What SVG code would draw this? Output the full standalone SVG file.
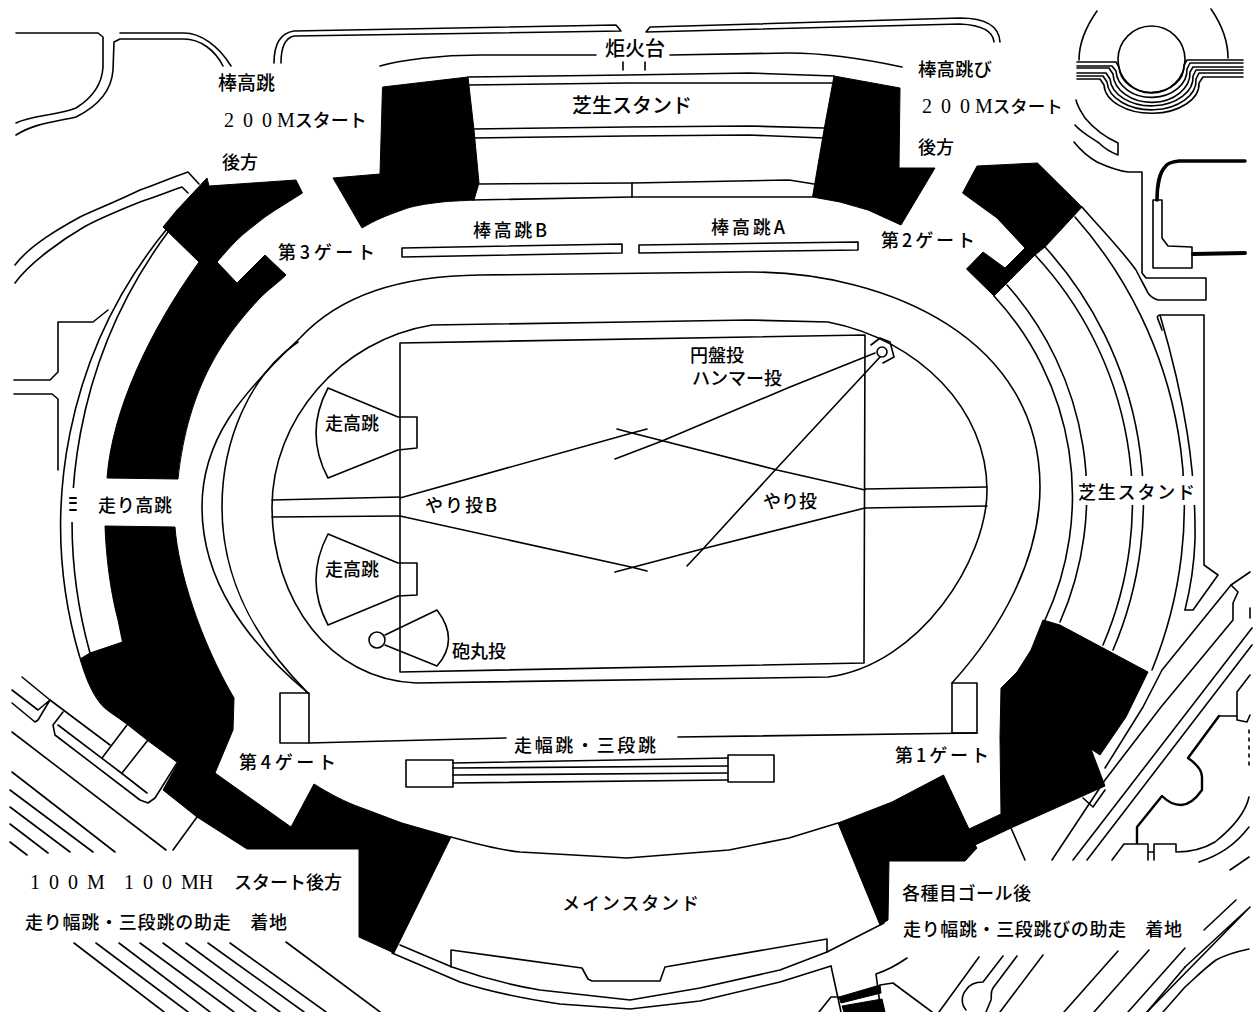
<svg xmlns="http://www.w3.org/2000/svg" width="1253" height="1012" viewBox="0 0 1253 1012">
<style>
.l{fill:none;stroke:#000;stroke-width:1.6;stroke-linejoin:round;stroke-linecap:round}
.t{stroke-width:3.5}
.m{stroke-width:2.4}
.b{fill:#000;stroke:#000;stroke-width:1;stroke-linejoin:round}
.w{fill:#fff;stroke:none}
text{font-family:"Noto Sans CJK JP","Noto Sans",sans-serif;font-size:18px;font-weight:500;fill:#000}
.s{font-family:"Liberation Serif",serif;font-size:20px}
</style>
<rect width="1253" height="1012" fill="#fff"/>
<g id="site-lines" class="l">
<path d="M16,33H98L103,37V67C102,85 92,98 76,108C55,116 33,115 16,123"/>
<path d="M120,33H184C200,33 218,45 231,66"/>
<path d="M223,66C215,50 200,39 184,39H120L114,42L113,70C112,85 104,103 76,117C55,122 35,123 16,135"/>
<path d="M274,63C274,45 280,33 294,31L616,25L621,31L294,36C285,38 281,48 281,63"/>
<path d="M646,32L650,27L960,18C985,18 999,25 1000,42M646,32L960,24C980,25 993,30 994,42"/>
<path d="M380,66C400,60 440,55 480,55H596M670,55L789,53C820,53 860,58 902,67"/>
<path d="M623,62V70M645,62V70"/>
<path d="M188,172L199,184M188,172C165,180 160,183 140,190C115,202 95,210 80,217C60,228 30,245 15,265"/>
<path d="M182,187L188,193M182,187C165,193 155,197 140,202C115,212 100,218 84,227C65,238 30,262 15,283"/>
<path d="M14,380H50L58,372V322H93L108,310"/>
<path d="M14,394H52L58,399V470"/>
<path d="M1097,11C1085,28 1079,45 1079,60M1211,9C1222,25 1228,42 1228,58"/>
<circle cx="1151.500" cy="59.500" r="33.500"/>
<path d="M1077,62H1116L1119,67A32,26 0 0 0 1184,65L1187,60H1243"/>
<path d="M1077,66H1112L1116,71A35,27 0 0 0 1187,69L1190,63H1243"/>
<path d="M1077,68H1109L1113,74A38,29 0 0 0 1190,72L1193,67H1243"/>
<path d="M1077,73H1106L1110,79A41,28 0 0 0 1193,76L1196,70H1243"/>
<path d="M1077,76H1103L1107,82A44,29 0 0 0 1196,79L1199,73H1243"/>
<path d="M1077,79H1100L1104,85A47,29 0 0 0 1199,83L1203,77H1243"/>
<path d="M1076,100C1078,108 1082,113 1085,118C1095,130 1105,137 1118,143V155C1110,152 1104,148 1099,143C1090,137 1081,132 1075,125"/>
<path d="M1074,142C1082,152 1090,158 1097,162C1110,168 1120,171 1128,172H1142V273L1146,278H1206V300H1158C1152,298 1150,296 1148,293C1144,285 1140,278 1136,270C1120,248 1100,228 1082,207"/>
<path class="l t" d="M1245,161H1179C1170,162 1166,165 1165,167C1160,172 1157,185 1157,200"/>
<path d="M1153,200H1162V238L1168,246L1192,247V268H1153Z"/>
<path class="l" style="stroke-width:4" d="M1193,254L1245,253"/>
<path d="M1162,330C1158,318 1155,316 1160,315H1204V565L1218,575L1193,610H1185"/>
<path d="M1250,572L1231,585L1238,592L1233,603V620L1161,707L1105,780L1052,860"/>
<path d="M1231,585L1162,670L1143,707L1105,768"/>
<path d="M1252,628L1073,860M1252,645L1087,860"/>
<path d="M1083,798L1093,807M1105,790L1093,807M1011,828L1025,860"/>
<path d="M1250,675L1237,692V720L1247,722L1250,715M1237,716H1219L1188,758"/>
<path class="l m" d="M1219,716L1188,758C1198,765 1202,772 1202,777V790C1195,800 1188,805 1181,805C1172,805 1166,800 1162,796L1137,827V843"/>
<path d="M1112,860L1124,844H1148V860M1154,860V844H1176V852C1190,852 1205,848 1215,842C1230,830 1245,815 1249,797M1148,852H1154"/>
<path d="M1199,862C1220,855 1235,845 1249,827M1230,870L1249,857"/>
<path d="M1249,730V770" stroke-dasharray="3 5"/>
<path d="M1250,608V618"/>
<path d="M1204,930L1236,900M1185,967L1250,907L1147,1012M1249,949C1235,952 1225,955 1216,960C1205,968 1195,978 1185,987L1163,1012"/>
<path d="M1185,967L1147,1012"/>
<path d="M979,957L939,1012M1003,956L983,982C975,982 969,985 966,990C961,996 961,1004 966,1010M1017,956L993,988C990,992 992,997 991,1000L986,1012M1043,955L1000,1012"/>
<path d="M1118,951L1064,1012M1149,950L1094,1012M1185,948L1128,1012"/>
<path d="M831,966L841,1012M876,974L881,1012M876,974C888,970 897,965 907,958"/>
<path d="M839,997H831L819,1012M880,985L893,983L932,1012"/>
<path d="M12,690L38,710L50,700L38,720L35,722L12,703"/>
<path d="M22,677L50,700L110,745"/>
<path d="M63,712L53,725L55,735L140,800L148,803L155,798L177,763"/>
<path d="M58,725L120,772L147,793"/>
<path d="M127,725L102,758M148,740L122,773"/>
<path d="M12,732L166,850M12,772L115,852M10,790L93,852M10,807L70,852M10,824L48,853M10,842L27,855"/>
<path d="M197,817L173,850"/>
<path d="M74,943L164,1012M96,943L188,1012M119,943L210,1012M140,943L234,1012M163,943L256,1012M186,943L280,1012M208,943L304,1012M230,943L326,1012M286,942L380,1012"/>
</g>
<g id="stands" class="l">
<path d="M468,77L627,75L749,73L834,76"/>
<path d="M468,85L627,83L832,83"/>
<path d="M472,129L627,127L749,126L824,128"/>
<path d="M472,138L627,136L749,135L824,138"/>
<path d="M479,184L632,183L789,180L814,184"/>
<path d="M472,200L632,197H812"/>
<path d="M632,183V197"/>
<path d="M994,296A294,294 0 0 1 1045,620"/>
<path d="M1007,285A316,316 0 0 1 1060,622"/>
<path d="M1035,255A362,362 0 0 1 1103,645"/>
<path d="M1045,247A378,378 0 0 1 1113,650"/>
<path d="M1075,217A435,435 0 0 1 1152,670"/>
<path d="M1160,315C1185,400 1196,470 1195,540C1194,570 1190,590 1185,610"/>
<rect class="w" x="1075" y="476" width="122" height="29"/>
<path d="M166,230A467,467 0 0 0 80,658"/>
<path d="M168,232A488,488 0 0 0 90,653"/>
<rect class="w" x="64" y="488" width="14" height="34"/>
<path d="M70,498H76M70,503H76M70,510H76" stroke-width="2"/>
<path d="M451,967V950L582,968L588,979L592,981H660L665,967L827,939V952"/>
<path d="M400,945L452,967C480,977 510,985 540,990L630,1000L700,988L780,970L827,952L884,923"/>
<path d="M392,953L460,982C490,992 520,998 560,1004L630,1009L700,1001L780,982L831,966"/>
<path d="M451,837C480,845 500,850 520,852L627,858L729,850L789,838L838,823"/>
</g>
<g id="black-blocks" class="b">
<path d="M382.500,87L468,77L474,130L479,183L474,200C460,201 450,201 442,202C425,204 412,206 402,210C388,215 375,220 362,228L333,178L380,174Z"/>
<path d="M207,178L209,186L296,180L302.500,193C290,201 278,208 265,217C255,225 245,232 237,240C230,247 224,254 217,262L237,283L265,255L286,275C278,283 270,288 261,297C225,335 188,385 178,479L107,478C112,410 150,330 199,262L163,227L177,210Z"/>
<path d="M105,526L175,527C178,570 200,640 234,698L233,730L215,773L291,827L314,784C330,794 345,802 362,808L402,823L451,837L394,953L359,937V849H247L197,817L163,790L178,763L147,740L128,725C115,715 105,710 100,703C90,690 85,675 80,659L90,653L122.500,642L118,620C110,590 106,555 105,526Z"/>
<path d="M834,76L900,88L899,168L935,168L901,225L868,210L840,202L812.500,197L824,130Z"/>
<path d="M977,166L1037.500,163L1082,207L1045,247L1035,255L1007,283L994,296L966.500,269L983,252L1005,268L1025,248L997,218L962.500,193Z"/>
<path d="M1043,620L1060,625L1148,672L1126,717L1100,755L1091,749L1105,786L1011,828L975,845L977,848L965,861H889L888,920L880,925L838,823L892,802L943.500,775L969,829L1001,814L1000,737L1001,688L1017,672L1031,650Z"/>
<path d="M839,997L880,985L881,993L841,1003ZM842,1006L882,999L885,1012H844Z"/>
</g>
<g id="track-and-field" class="l">
<path d="M308,693C245,640 202,580 202,507C202,440 240,395 300,338C340,295 400,276 480,275L750,272C890,272 1040,340 1040,487C1040,560 1000,630 952,683"/>
<path d="M298,342C250,375 222,440 222,507C222,580 255,640 308,693"/>
<path d="M432,325L627,322L749,320L828,322C920,340 987,410 987,490C987,560 920,665 828,677L416,683C330,680 272,600 272,507C272,420 340,340 432,325Z"/>
<path d="M400,343L865,335L864,663L400,672Z"/>
<path d="M272,500L400,497M272,517L400,516"/>
<path d="M865,489L987,487M865,508L987,506"/>
<path d="M400,498L632,433L647,429M617,429L632,433L777,470L865,490"/>
<path d="M400,516L631,567L647,571M615,572L702,549L865,508"/>
<path d="M875,353L790,387L662,441L615,459"/>
<path d="M880,357L777,468L702,550L687,566"/>
<circle cx="882" cy="352" r="5"/>
<path d="M871,345L880,338L890,342L894,357L883,363"/>
<path d="M328,388L398,417H417V448L398,450L328,478Q304,433 328,388Z"/>
<path d="M328,534L398,563H417V595L398,596L328,625Q304,580 328,534Z"/>
<circle cx="377" cy="640" r="8"/>
<path d="M385,635L437,610Q460,640 437,666L385,645"/>
<rect x="280" y="693" width="29" height="50"/>
<rect x="952" y="683" width="25" height="50"/>
<path d="M309,743L506,738M678,737L977,733"/>
<path d="M402,248L622,244V253L402,257Z"/>
<path d="M639,245L858,242V250L639,253Z"/>
<rect x="406" y="760" width="47" height="27"/>
<rect x="728" y="755" width="46" height="27"/>
<path d="M453,763L728,758M453,768L728,766M453,775L728,773M453,783L728,780"/>
</g>
<g id="labels">
<text x="605" y="56" style="font-size:20px">炬火台</text>
<text x="572" y="113" style="font-size:20px">芝生スタンド</text>
<text x="218" y="90" style="font-size:19px">棒高跳</text>
<text x="224" y="127"><tspan class="s" letter-spacing="9">20</tspan><tspan class="s" letter-spacing="5">0</tspan><tspan class="s">M</tspan><tspan>スタート</tspan></text>
<text x="222" y="169">後方</text>
<text x="918" y="76" style="font-size:18.500px">棒高跳び</text>
<text x="922" y="113" style="font-size:17.500px"><tspan class="s" letter-spacing="9">20</tspan><tspan class="s" letter-spacing="5">0</tspan><tspan class="s">M</tspan><tspan>スタート</tspan></text>
<text x="918" y="154">後方</text>
<text x="278" y="259" textLength="97" lengthAdjust="spacing">第3ゲート</text>
<text x="881" y="247" textLength="94" lengthAdjust="spacing">第2ゲート</text>
<text x="239" y="769" textLength="97" lengthAdjust="spacing">第4ゲート</text>
<text x="895" y="762" textLength="94" lengthAdjust="spacing">第1ゲート</text>
<text x="473" y="237" textLength="74" lengthAdjust="spacing">棒高跳B</text>
<text x="711" y="234" textLength="74" lengthAdjust="spacing">棒高跳A</text>
<text x="690" y="362">円盤投</text>
<text x="692" y="385">ハンマー投</text>
<text x="325" y="430">走高跳</text>
<text x="325" y="576">走高跳</text>
<text x="98" y="512" textLength="74" lengthAdjust="spacing">走り高跳</text>
<text x="425" y="512" textLength="72" lengthAdjust="spacing">やり投B</text>
<text x="763" y="508">やり投</text>
<text x="452" y="658">砲丸投</text>
<text x="1078" y="499" textLength="117" lengthAdjust="spacing">芝生スタンド</text>
<text x="514" y="752" textLength="142" lengthAdjust="spacing">走幅跳・三段跳</text>
<text x="30" y="889"><tspan class="s" letter-spacing="9">100</tspan><tspan class="s">M</tspan><tspan class="s" x="124" letter-spacing="9">100</tspan><tspan class="s">MH</tspan><tspan x="234">スタート後方</tspan></text>
<text x="25" y="929" textLength="262" lengthAdjust="spacing">走り幅跳・三段跳の助走　着地</text>
<text x="562" y="910" textLength="137" lengthAdjust="spacing">メインスタンド</text>
<text x="902" y="900" textLength="129" lengthAdjust="spacing">各種目ゴール後</text>
<text x="903" y="936" textLength="279" lengthAdjust="spacing">走り幅跳・三段跳びの助走　着地</text>
</g>
</svg>
